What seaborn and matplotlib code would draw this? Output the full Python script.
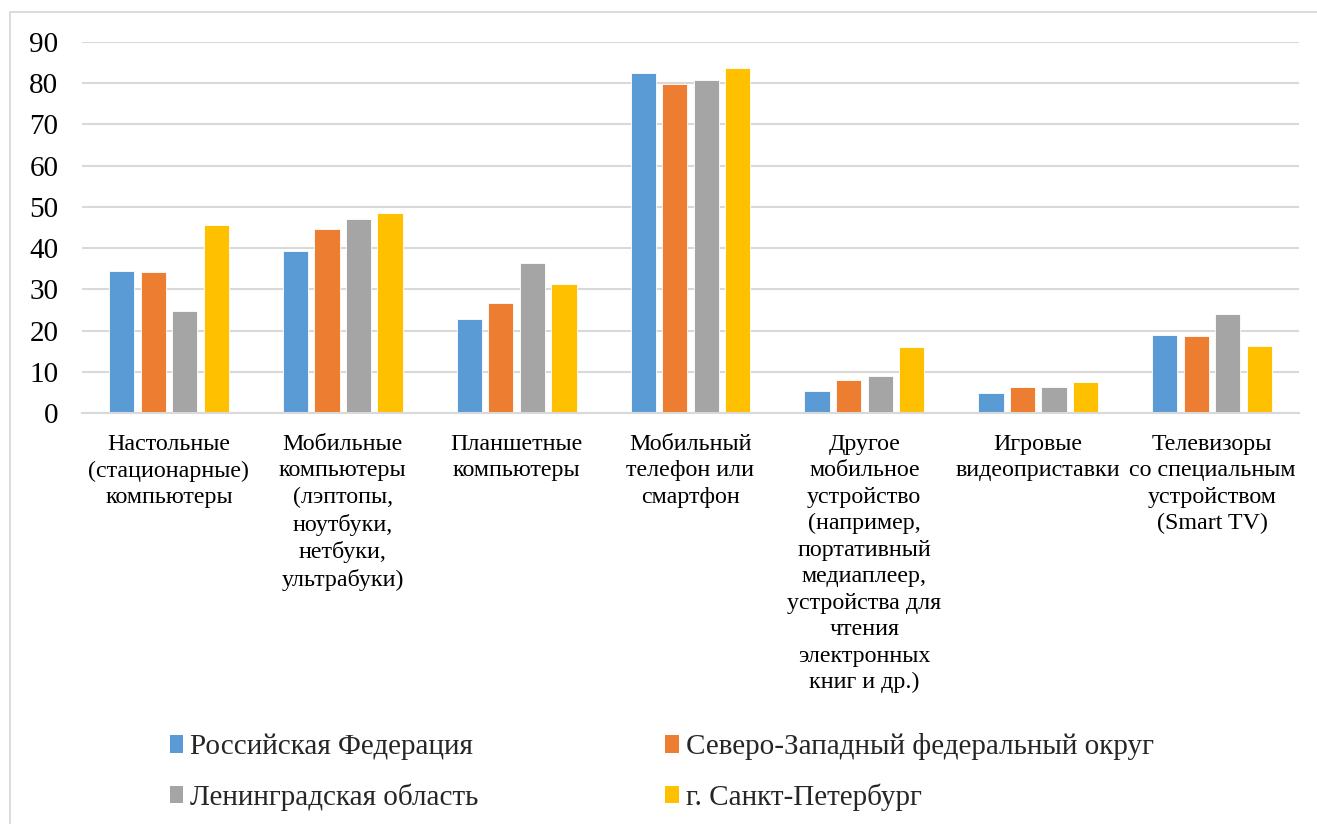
import matplotlib
matplotlib.use("Agg")
import matplotlib.pyplot as plt
from matplotlib.patches import Rectangle
import pandas as pd
import seaborn as sns

categories = [
    "Настольные\n(стационарные)\nкомпьютеры",
    "Мобильные\nкомпьютеры\n(лэптопы,\nноутбуки,\nнетбуки,\nультрабуки)",
    "Планшетные\nкомпьютеры",
    "Мобильный\nтелефон или\nсмартфон",
    "Другое\nмобильное\nустройство\n(например,\nпортативный\nмедиаплеер,\nустройства для\nчтения\nэлектронных\nкниг и др.)",
    "Игровые\nвидеоприставки",
    "Телевизоры\nсо специальным\nустройством\n(Smart TV)",
]
regions = [
    "Российская Федерация",
    "Северо-Западный федеральный округ",
    "Ленинградская область",
    "г. Санкт-Петербург",
]
russia = [34.4, 39.2, 22.7, 82.5, 5.3, 4.9, 18.9]
northwest = [34.2, 44.6, 26.8, 79.9, 7.9, 6.2, 18.6]
leningrad_obl = [24.7, 47.0, 36.4, 80.8, 8.9, 6.4, 23.9]
spb = [45.6, 48.4, 31.4, 83.6, 16.0, 7.5, 16.3]
y_ticks = [0, 10, 20, 30, 40, 50, 60, 70, 80, 90]
colors = ["#5B9BD5", "#ED7D31", "#A5A5A5", "#FFC000"]

series = [russia, northwest, leningrad_obl, spb]
df = pd.DataFrame(
    [(c, r, v) for r, vals in zip(regions, series) for c, v in zip(categories, vals)],
    columns=["category", "region", "value"],
)

sns.set_theme(style="white")
plt.rcParams["font.family"] = ["Liberation Serif", "DejaVu Serif"]

W, H = 1317, 824
fig = plt.figure(figsize=(W / 100, H / 100), dpi=100)
ax = fig.add_axes([82 / W, 1 - 413 / H, (1299 - 82) / W, (413 - 42) / H])

sns.barplot(
    data=df, x="category", y="value", hue="region",
    order=categories, hue_order=regions, palette=colors,
    width=0.725, gap=0.2, saturation=1, ax=ax, legend=False,
    edgecolor="white", linewidth=0.6,
)

ax.set_ylim(0, 90)
ax.set_xlim(-0.5, len(categories) - 0.5)
ax.set_yticks(y_ticks)
ax.set_yticklabels([str(t) for t in y_ticks], fontsize=21, color="#000000")
ax.set_xticks(range(len(categories)))
ax.set_xticklabels(categories, fontsize=17.3, color="#000000", linespacing=1.34,
                   va="top")
ax.set_xlabel("")
ax.set_ylabel("")
ax.tick_params(axis="both", length=0)
ax.tick_params(axis="y", pad=17)
ax.tick_params(axis="x", pad=15)
ax.yaxis.grid(True, color="#D9D9D9", linewidth=1.5)
ax.set_axisbelow(True)
for s in ["top", "right", "left"]:
    ax.spines[s].set_visible(False)
ax.spines["bottom"].set_color("#D9D9D9")
ax.spines["bottom"].set_linewidth(1.5)

# chart frame
fig.patches.append(Rectangle((10 / W, -0.1), 1.2, 1 - 12 / H + 0.1,
                             transform=fig.transFigure, fill=False,
                             edgecolor="#D9D9D9", linewidth=1.3))

# legend laid out row by row in two columns
handles = [Rectangle((0, 0), 1, 1, facecolor=c, edgecolor="none") for c in colors]
order = [0, 2, 1, 3]
leg = fig.legend(
    [handles[i] for i in order], [regions[i] for i in order],
    ncol=2, loc="center left", bbox_to_anchor=(170 / W, 1 - 772 / H),
    frameon=False, fontsize=21, handlelength=0.45, handleheight=0.55,
    handletextpad=0.25, columnspacing=6.4, labelspacing=0.78,
    borderpad=0, borderaxespad=0,
)

fig.savefig("out.png", dpi=100)
